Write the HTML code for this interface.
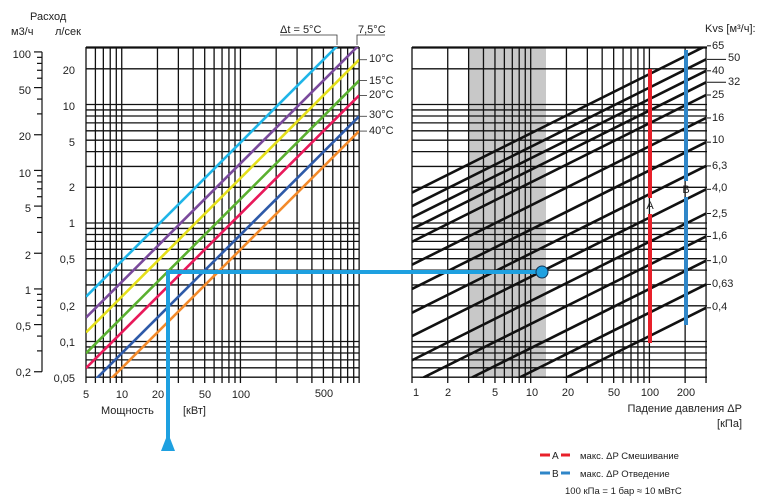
<!DOCTYPE html>
<html><head><meta charset="utf-8"><style>
body{margin:0;background:#fff}
svg{display:block;font-family:"Liberation Sans",sans-serif;font-size:11px;fill:#222}
</style></head><body>
<svg id="s" width="762" height="499" viewBox="0 0 762 499" xmlns="http://www.w3.org/2000/svg">
<defs>
<clipPath id="cl"><rect x="86" y="47" width="273" height="331"/></clipPath>
<clipPath id="cr"><rect x="412" y="47" width="295" height="331"/></clipPath>
</defs>
<rect x="469" y="47" width="77" height="331" fill="#c8c8c8"/>
<g id="grid" stroke="#111" stroke-width="1.3"></g>
<g id="diag" clip-path="url(#cl)" stroke-width="2.6" fill="none"></g>
<g id="kvs" clip-path="url(#cr)" stroke="#111" stroke-width="2.6" fill="none"></g>
<g id="ext" stroke="#111" stroke-width="1"></g>
<line x1="650" y1="69" x2="650" y2="198" stroke="#e8202a" stroke-width="4"/>
<line x1="650" y1="214" x2="650" y2="343" stroke="#e8202a" stroke-width="4"/>
<text x="650" y="209" text-anchor="middle" font-size="11">A</text>
<line x1="686" y1="50" x2="686" y2="181" stroke="#2f86c8" stroke-width="4"/>
<line x1="686" y1="197" x2="686" y2="325" stroke="#2f86c8" stroke-width="4"/>
<text x="686" y="193" text-anchor="middle" font-size="11">B</text>
<polyline points="168,440 168,272 542,272" fill="none" stroke="#1ea0e0" stroke-width="4"/>
<polygon points="161,451 175,451 168,433" fill="#1ea0e0"/>
<circle cx="542" cy="272" r="6" fill="#1ea0e0" stroke="#135" stroke-width="1"/>
<text x="30" y="20">Расход</text>
<text x="11" y="35">м3/ч</text>
<text x="55" y="35">л/сек</text>
<text x="280" y="33">Δt = 5°C</text>
<polyline points="280,35 337,35 337,45" fill="none" stroke="#333" stroke-width="0.8"/>
<text x="358" y="33">7,5°C</text>
<polyline points="357,45 357,35 385,35" fill="none" stroke="#333" stroke-width="0.8"/>
<text x="369" y="62">10°C</text>
<text x="369" y="84">15°C</text>
<text x="369" y="98">20°C</text>
<text x="369" y="118">30°C</text>
<text x="369" y="134">40°C</text>
<text x="705" y="32">Kvs [м³/ч]:</text>
<g text-anchor="end">
<text x="75" y="74">20</text><text x="75" y="110">10</text><text x="75" y="146">5</text>
<text x="75" y="191">2</text><text x="75" y="227">1</text><text x="75" y="263">0,5</text>
<text x="75" y="310">0,2</text><text x="75" y="346">0,1</text><text x="75" y="382">0,05</text>
<text x="31" y="58">100</text><text x="31" y="94">50</text><text x="31" y="140">20</text>
<text x="31" y="177">10</text><text x="31" y="212">5</text><text x="31" y="259">2</text>
<text x="31" y="294">1</text><text x="31" y="330">0,5</text><text x="31" y="376">0,2</text>
</g>
<g text-anchor="middle">
<text x="86" y="398">5</text><text x="122" y="398">10</text><text x="158" y="398">20</text>
<text x="205" y="398">50</text><text x="241" y="398">100</text><text x="324" y="397">500</text>
<text x="416" y="396">1</text><text x="448" y="396">2</text><text x="495" y="396">5</text>
<text x="532" y="396">10</text><text x="568" y="396">20</text><text x="614" y="396">50</text>
<text x="650" y="396">100</text><text x="686" y="396">200</text>
</g>
<text x="101" y="414">Мощность</text>
<text x="183" y="414">[кВт]</text>
<text x="742" y="412" text-anchor="end">Падение давления ΔP</text>
<text x="742" y="427" text-anchor="end">[кПа]</text>
<g font-size="11">
<text x="712" y="49">65</text><text x="728" y="61">50</text><text x="712" y="74">40</text>
<text x="728" y="85">32</text><text x="712" y="98">25</text><text x="712" y="121">16</text>
<text x="712" y="143">10</text><text x="712" y="169">6,3</text><text x="712" y="191">4,0</text>
<text x="712" y="217">2,5</text><text x="712" y="239">1,6</text><text x="712" y="263">1,0</text>
<text x="712" y="287">0,63</text><text x="712" y="310">0,4</text>
</g>
<line x1="540" y1="455" x2="550" y2="455" stroke="#e8202a" stroke-width="3"/>
<text x="552" y="459" font-size="10">A</text>
<line x1="561" y1="455" x2="570" y2="455" stroke="#e8202a" stroke-width="3"/>
<text x="580" y="459" font-size="9.5">макс. ΔP  Смешивание</text>
<line x1="540" y1="473" x2="550" y2="473" stroke="#2f86c8" stroke-width="3"/>
<text x="552" y="477" font-size="10">B</text>
<line x1="561" y1="473" x2="570" y2="473" stroke="#2f86c8" stroke-width="3"/>
<text x="580" y="477" font-size="9.5">макс. ΔP  Отведение</text>
<text x="565" y="494" font-size="9.5">100 кПа = 1 бар ≈ 10 мВтС</text>
</svg>
<script>
var L=Math.log10,NS="http://www.w3.org/2000/svg";
function yv(v){return 223-L(v)*118.5}
function xl(p){return 86+(L(p)-L(5))*118.7}
function xr(d){return 412+L(d)*118.7}
function ln(g,a,b,c,d,col,w){var e=document.createElementNS(NS,"line");e.setAttribute("x1",a);e.setAttribute("y1",b);e.setAttribute("x2",c);e.setAttribute("y2",d);if(col)e.setAttribute("stroke",col);if(w)e.setAttribute("stroke-width",w);document.getElementById(g).appendChild(e)}
var hv=[];[0.01,0.1,1,10].forEach(function(d){for(var i=1;i<10;i++){var v=i*d;if(v>=0.05-1e-9&&v<=30+1e-9)hv.push(v)}});
hv.forEach(function(v){var y=yv(v);ln("grid",86,y,359,y);ln("grid",412,y,707,y)});
ln("grid",86,47,359,47);ln("grid",412,47,707,47);
[1,10,100].forEach(function(d){for(var i=1;i<10;i++){var p=i*d;if(p>=5&&p<=1000)ln("grid",xl(p),47,xl(p),383)}});ln("grid",xl(1000),47,xl(1000),383);
[1,10,100].forEach(function(d){for(var i=1;i<10;i++){var p=i*d;if(p<=300)ln("grid",xr(p),47,xr(p),383)}});
ln("ext",42,yv(100/3.6),42,yv(0.2/3.6),"#111",1.2);
[0.1,1,10].forEach(function(d){for(var i=1;i<10;i++){var m=i*d;if(m>=0.2&&m<=100){var major=(i==1||i==2||i==5);ln("ext",major?34:37,yv(m/3.6),42,yv(m/3.6),"#111",1.2)}}});ln("ext",34,yv(100/3.6),42,yv(100/3.6),"#111",1.2);
var dts=[[5,"#1fb5e8"],[7.5,"#7a4a9c"],[10,"#e5e01a"],[15,"#5ab030"],[20,"#e8195a"],[30,"#2e5aa8"],[40,"#f38a2a"]];
dts.forEach(function(t){var f=function(p){return p/(4.19*t[0])};ln("diag",xl(5),yv(f(5)),xl(1000),yv(f(1000)),t[1]);
 if(t[0]>=10){ln("ext",359,yv(f(1000)),367,yv(f(1000)),"#333",0.8)}});
[65,50,40,32,25,16,10,6.3,4,2.5,1.6,1,0.63,0.4].forEach(function(k){var f=function(d){return k*Math.sqrt(d/100)/3.6};ln("kvs",xr(1),yv(f(1)),xr(300),yv(f(300)));
 var y=yv(f(300)),long=(k==50||k==32);ln("ext",707,y,long?726:711,y,"#111",1)});
</script>
</body></html>
